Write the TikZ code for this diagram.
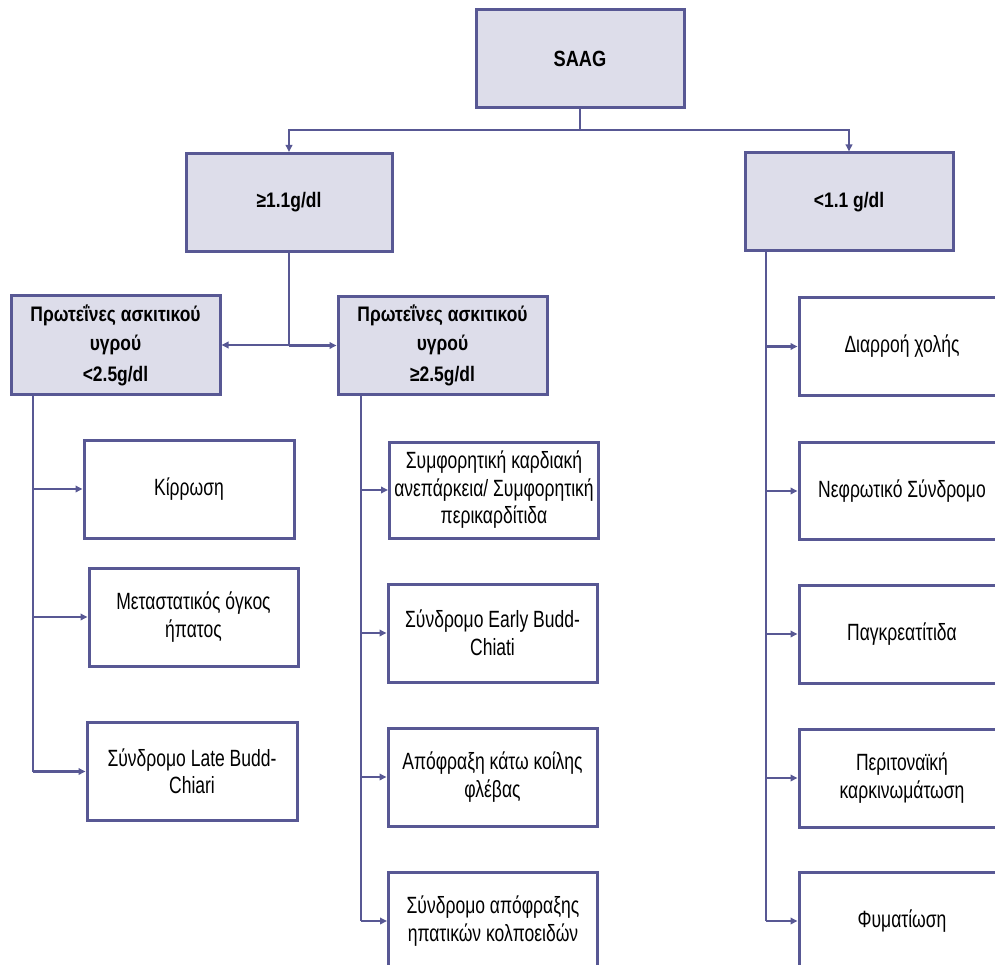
\documentclass[tikz,border=0pt]{standalone}
\usepackage{fontspec}
\setmainfont{Liberation Sans}[FakeStretch=0.745, BoldFeatures={FakeStretch=0.83}]
\usetikzlibrary{arrows.meta}
\definecolor{bc}{RGB}{88,88,148}
\definecolor{gf}{RGB}{221,221,234}
\tikzset{
  gbox/.style={draw=bc, fill=gf, line width=3pt, align=center, inner sep=0pt,
    minimum width=208pt, minimum height=98pt, font=\fontsize{21}{29}\selectfont\bfseries},
  wbox/.style={draw=bc, fill=white, line width=3pt, align=center, inner sep=0pt,
    minimum width=209pt, minimum height=98pt, font=\fontsize{23.5}{27.5}\selectfont},
  ln/.style={draw=bc, line width=2.7pt},
  arr/.style={ln, -{Triangle[length=7pt,width=6.5pt]}},
}
\begin{document}
\begin{tikzpicture}[x=1pt,y=-1pt]
\useasboundingbox (0,0) rectangle (995,965);
\clip (0,0) rectangle (995,965);
% top level
\node[gbox, font=\fontsize{22}{29}\selectfont\bfseries] (saag) at (580,59) {SAAG};
\node[gbox, minimum width=206pt] (ge) at (289,202.5) {≥1.1g/dl};
\node[gbox] (lt) at (849,202) {<1.1 g/dl};
\node[gbox, minimum width=209pt] (lp) at (115.5,345) {Πρωτεΐνες ασκιτικού\\υγρού\\[2pt]<2.5g/dl};
\node[gbox, minimum width=209pt] (mp) at (442.5,345.5) {Πρωτεΐνες ασκιτικού\\υγρού\\[2pt]≥2.5g/dl};
% left column
\node[wbox, minimum width=210pt] (kir) at (189,489) {Κίρρωση};
\node[wbox] (meta) at (193.5,617) {Μεταστατικός όγκος\\ήπατος};
\node[wbox, minimum width=210pt] (late) at (192,771.5) {Σύνδρομο Late Budd-\\Chiari};
% middle column
\node[wbox, minimum height=96pt] (sym) at (494,490) {Συμφορητική καρδιακή\\ανεπάρκεια/ Συμφορητική\\περικαρδίτιδα};
\node[wbox] (early) at (492.5,633) {Σύνδρομο Early Budd-\\Chiati};
\node[wbox] (apo) at (492.5,777) {Απόφραξη κάτω κοίλης\\φλέβας};
\node[wbox] (sin) at (493,921) {Σύνδρομο απόφραξης\\ηπατικών κολποειδών};
% right column
\node[wbox, minimum width=206pt, minimum height=97pt] (dia) at (902,346.5) {Διαρροή χολής};
\node[wbox, minimum width=206pt, minimum height=97pt] (nef) at (902,491) {Νεφρωτικό Σύνδρομο};
\node[wbox, minimum width=206pt] (pag) at (902,634) {Παγκρεατίτιδα};
\node[wbox, minimum width=206pt] (per) at (902,778) {Περιτοναϊκή\\καρκινωμάτωση};
\node[wbox, minimum width=206pt] (fym) at (902,921) {Φυματίωση};
% trunk coordinates
\coordinate (bar) at (580,130);
\coordinate (tL) at (33,0);
\coordinate (tM) at (361,0);
\coordinate (tR) at (766,0);
% connectors top
\draw[ln] (saag.south) -- (saag.south |- bar);
\draw[arr] (saag.south |- bar) -| (ge.north);
\draw[arr] (saag.south |- bar) -| (lt.north);
\draw[ln] (ge.south) -- (ge.south |- lp.east);
\draw[arr] (ge.south |- lp.east) -- (lp.east);
\draw[arr] (ge.south |- mp.west) -- (mp.west);
% left trunk
\draw[ln] (tL |- lp.south) -- (tL |- late.west);
\draw[arr] (tL |- kir.west) -- (kir.west);
\draw[arr] (tL |- meta.west) -- (meta.west);
\draw[arr] (tL |- late.west) -- (late.west);
% middle trunk
\draw[ln] (tM |- mp.south) -- (tM |- sin.west);
\draw[arr] (tM |- sym.west) -- (sym.west);
\draw[arr] (tM |- early.west) -- (early.west);
\draw[arr] (tM |- apo.west) -- (apo.west);
\draw[arr] (tM |- sin.west) -- (sin.west);
% right trunk
\draw[ln] (tR |- lt.south) -- (tR |- fym.west);
\draw[arr] (tR |- dia.west) -- (dia.west);
\draw[arr] (tR |- nef.west) -- (nef.west);
\draw[arr] (tR |- pag.west) -- (pag.west);
\draw[arr] (tR |- per.west) -- (per.west);
\draw[arr] (tR |- fym.west) -- (fym.west);
\end{tikzpicture}
\end{document}
